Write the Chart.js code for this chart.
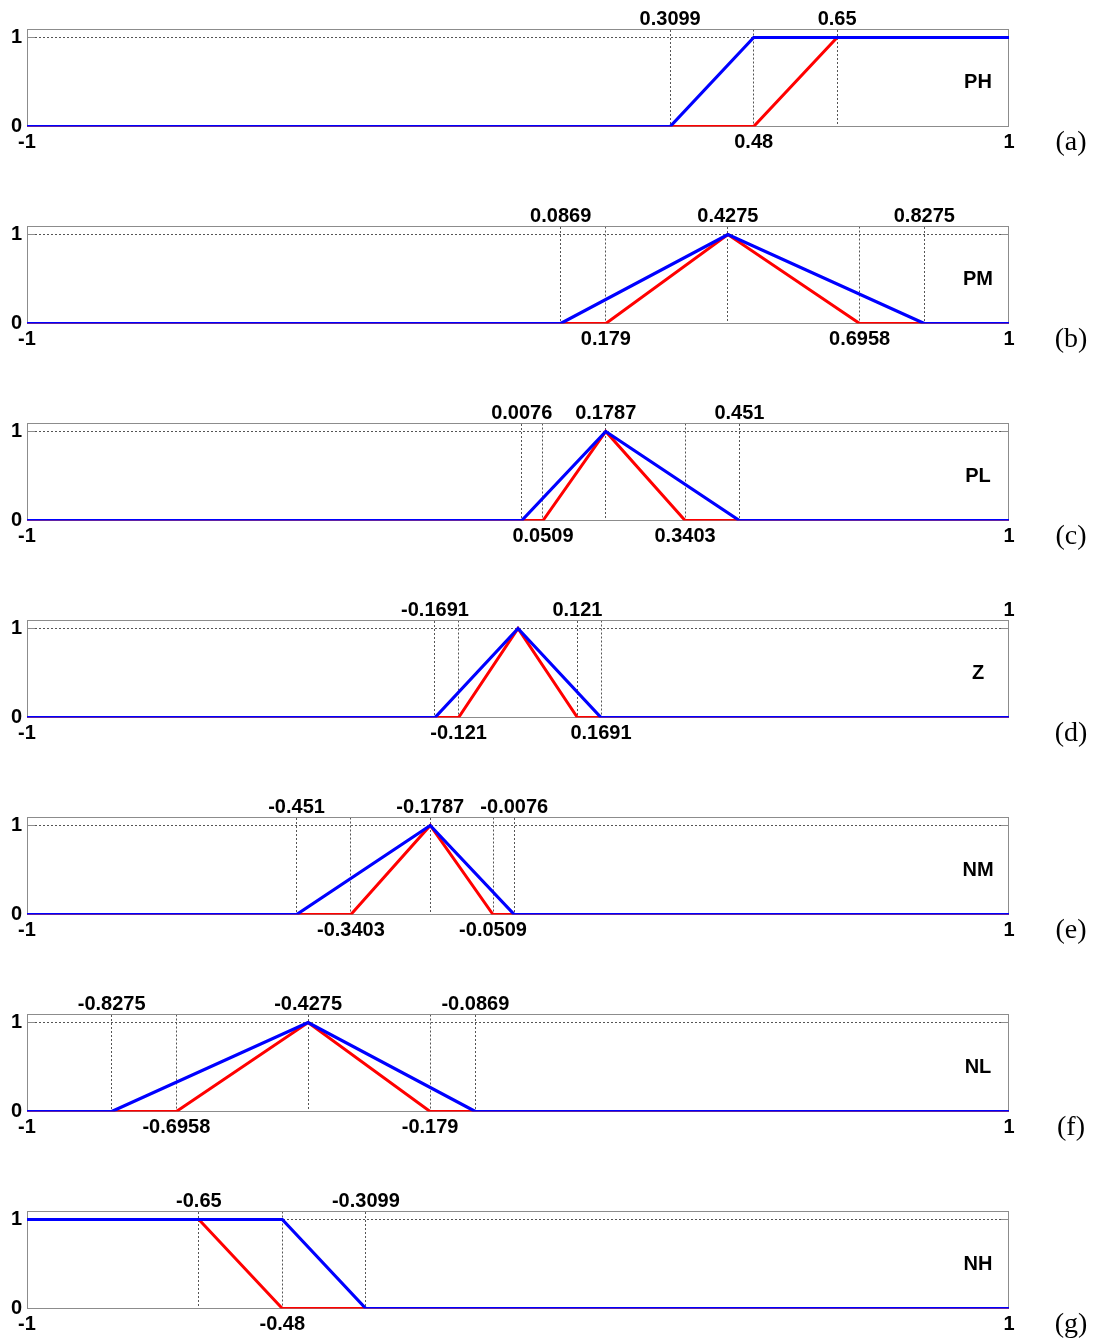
<!DOCTYPE html>
<html>
<head>
<meta charset="utf-8">
<script src="https://cdn.jsdelivr.net/npm/chart.js@4/dist/chart.umd.min.js"></script>
<style>
  html, body { margin: 0; padding: 0; background: #fff; overflow: hidden; }
  #wrap { position: relative; width: 1096px; height: 1341px; }
  canvas { position: absolute; left: 0; }
</style>
</head>
<body>
<div id="wrap"></div>
<script>
// one row per panel, (a) .. (g)
const NAMES = ["PH", "PM", "PL", "Z", "NM", "NL", "NH"];
const TAGS = ["(a)", "(b)", "(c)", "(d)", "(e)", "(f)", "(g)"];

const BLUE_X = [
  [-1, 0.3099, 0.48, 1],
  [-1, 0.0869, 0.4275, 0.8275, 1],
  [-1, 0.0076, 0.1787, 0.451, 1],
  [-1, -0.1691, 0, 0.1691, 1],
  [-1, -0.451, -0.1787, -0.0076, 1],
  [-1, -0.8275, -0.4275, -0.0869, 1],
  [-1, -0.48, -0.3099, 1],
];
const BLUE_Y = [
  [0, 0, 1, 1],
  [0, 0, 1, 0, 0],
  [0, 0, 1, 0, 0],
  [0, 0, 1, 0, 0],
  [0, 0, 1, 0, 0],
  [0, 0, 1, 0, 0],
  [1, 1, 0, 0],
];
const RED_X = [
  [-1, 0.48, 0.65, 1],
  [-1, 0.179, 0.4275, 0.6958, 1],
  [-1, 0.0509, 0.1787, 0.3403, 1],
  [-1, -0.121, 0, 0.121, 1],
  [-1, -0.3403, -0.1787, -0.0509, 1],
  [-1, -0.6958, -0.4275, -0.179, 1],
  [-1, -0.65, -0.48, 1],
];
const RED_Y = [
  [0, 0, 1, 1],
  [0, 0, 1, 0, 0],
  [0, 0, 1, 0, 0],
  [0, 0, 1, 0, 0],
  [0, 0, 1, 0, 0],
  [0, 0, 1, 0, 0],
  [1, 1, 0, 0],
];

// labelled breakpoints above and below each box
const TOP_TICKS = [
  [0.3099, 0.65],
  [0.0869, 0.4275, 0.8275],
  [0.0076, 0.1787, 0.451],
  [-0.1691, 0.121, 1],
  [-0.451, -0.1787, -0.0076],
  [-0.8275, -0.4275, -0.0869],
  [-0.65, -0.3099],
];
const BOTTOM_TICKS = [
  [-1, 0.48, 1],
  [-1, 0.179, 0.6958, 1],
  [-1, 0.0509, 0.3403, 1],
  [-1, -0.121, 0.1691],
  [-1, -0.3403, -0.0509, 1],
  [-1, -0.6958, -0.179, 1],
  [-1, -0.48, 1],
];
const Y_TICKS = [0, 1];

const PANEL_STEP = 197;
const SANS = "'Liberation Sans', Arial, sans-serif";
const TICK_FONT = { family: SANS, size: 20, weight: "bold" };
const DOT = "#555";

const pts = (xs, ys) => xs.map((x, i) => ({ x, y: ys[i] }));
const setTicks = (vals) => (scale) => { scale.ticks = vals.map((v) => ({ value: v })); };
const xGrid = (c) => (c.tick && Math.abs(c.tick.value) === 1 ? "rgba(0,0,0,0)" : DOT);
const yGrid = (c) => (c.tick && c.tick.value === 0 ? "rgba(0,0,0,0)" : DOT);

const decor = {
  id: "decor",
  beforeDatasetsDraw(chart) {
    const { ctx, chartArea: a, scales } = chart;
    ctx.save();
    ctx.strokeStyle = "#8c8c8c";
    ctx.lineWidth = 1;
    ctx.strokeRect(a.left + 0.5, a.top, a.right - a.left - 1, a.bottom - a.top);
    // small inside ticks on y, matlab style
    for (const v of Y_TICKS) {
      const y = Math.floor(scales.y.getPixelForValue(v)) + 0.5;
      ctx.beginPath();
      ctx.moveTo(a.left, y); ctx.lineTo(a.left + 8, y);
      ctx.moveTo(a.right - 8, y); ctx.lineTo(a.right, y);
      ctx.stroke();
    }
    ctx.restore();
  },
  afterDraw(chart, args, opts) {
    const { ctx, chartArea: a, scales } = chart;
    ctx.save();
    ctx.fillStyle = "#000";
    ctx.font = `bold 20px ${SANS}`;
    ctx.textAlign = "center";
    ctx.textBaseline = "middle";
    ctx.fillText(opts.name, a.right - 31, scales.y.getPixelForValue(0.5));
    ctx.font = "28px 'Liberation Serif', 'Times New Roman', serif";
    ctx.fillText(opts.tag, 1071, a.bottom + 16);
    ctx.restore();
  },
};

const wrap = document.getElementById("wrap");

NAMES.forEach((name, i) => {
  const canvas = document.createElement("canvas");
  canvas.width = 1096;
  canvas.height = 159;
  canvas.style.top = `${i * PANEL_STEP}px`;
  wrap.appendChild(canvas);

  new Chart(canvas, {
    type: "line",
    data: {
      datasets: [
        {
          label: "blue",
          data: pts(BLUE_X[i], BLUE_Y[i]),
          borderColor: "#0000ff",
          borderWidth: 3.2,
          pointRadius: 0,
          tension: 0,
          order: 0,
        },
        {
          label: "red",
          data: pts(RED_X[i], RED_Y[i]),
          borderColor: "#ff0000",
          borderWidth: 3,
          pointRadius: 0,
          tension: 0,
          order: 1,
        },
      ],
    },
    options: {
      responsive: false,
      animation: false,
      devicePixelRatio: 1,
      layout: { padding: { top: 0, left: 0, right: 87, bottom: 0 } },
      plugins: {
        legend: { display: false },
        tooltip: { enabled: false },
        decor: { name, tag: TAGS[i] },
      },
      scales: {
        x: {
          type: "linear",
          position: "bottom",
          min: -1,
          max: 1,
          afterBuildTicks: setTicks(BOTTOM_TICKS[i]),
          afterFit: (s) => { s.height = 32.5; },
          grid: { color: xGrid, lineWidth: 1, drawTicks: false },
          border: { display: false, dash: [2, 2] },
          ticks: {
            autoSkip: false, maxRotation: 0, padding: 4,
            color: "#000", font: TICK_FONT,
            callback: (v) => String(v),
          },
        },
        xt: {
          type: "linear",
          position: "top",
          min: -1,
          max: 1,
          afterBuildTicks: setTicks(TOP_TICKS[i]),
          afterFit: (s) => { s.height = 29.5; },
          grid: { color: xGrid, lineWidth: 1, drawTicks: false },
          border: { display: false, dash: [2, 2] },
          ticks: {
            autoSkip: false, maxRotation: 0, padding: -2,
            color: "#000", font: TICK_FONT,
            callback: (v) => String(v),
          },
        },
        y: {
          type: "linear",
          min: 0,
          max: 1.09,
          afterBuildTicks: setTicks(Y_TICKS),
          afterFit: (s) => { s.width = 27; },
          grid: { color: yGrid, lineWidth: 1, drawTicks: false },
          border: { display: false, dash: [2, 2] },
          ticks: { padding: 5, color: "#000", font: TICK_FONT },
        },
      },
    },
    plugins: [decor],
  });
});
</script>
</body>
</html>
